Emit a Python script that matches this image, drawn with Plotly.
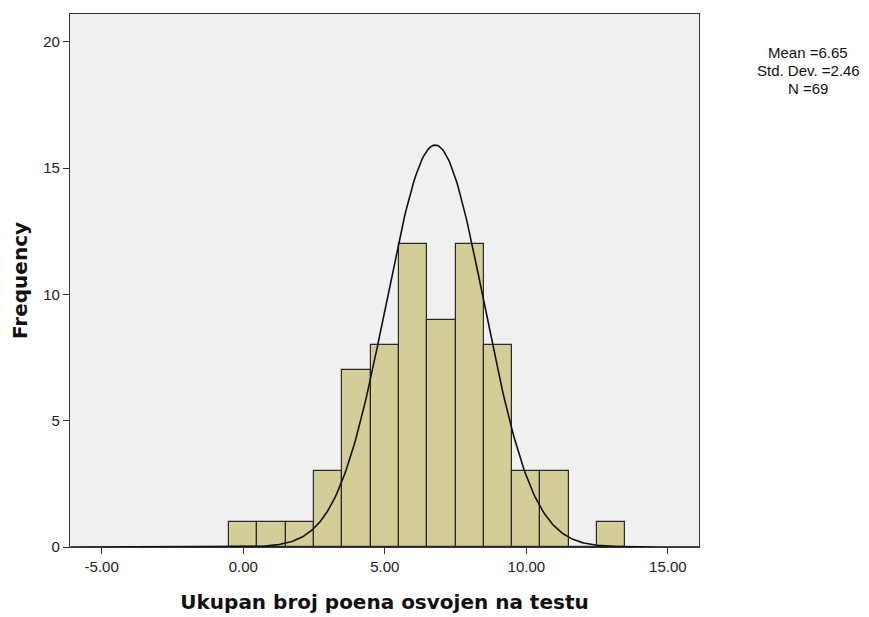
import numpy as np
import plotly.graph_objects as go

# histogram bins (centres) and counts
bin_centers = [0, 1, 2, 3, 4, 5, 6, 7, 8, 9, 10, 11, 12, 13]
counts = [1, 1, 1, 3, 7, 8, 12, 9, 12, 8, 3, 3, 0, 1]

# normal curve as drawn on the chart
curve_mean = 6.78
curve_sd = 1.73
n_total = 69
bin_width = 1.0

stats_lines = ["Mean =6.65", "Std. Dev. =2.46", "N =69"]

x_ticks = [-5, 0, 5, 10, 15]
x_ticklabels = ["-5.00", "0.00", "5.00", "10.00", "15.00"]
y_ticks = [0, 5, 10, 15, 20]

title_font = dict(family="DejaVu Sans", size=20, color="#111111", weight="bold")
tick_font = dict(family="Liberation Sans, Arial", size=15, color="#222222")

fig = go.Figure()

fig.add_trace(go.Bar(
    x=bin_centers, y=counts, width=bin_width,
    marker=dict(color="#D3CE97", line=dict(color="#2a2a2a", width=1.2)),
    showlegend=False, hoverinfo="x+y",
))

xs = np.linspace(-6.1, 16.1, 400)
ys = n_total * bin_width / (curve_sd * np.sqrt(2 * np.pi)) * np.exp(-0.5 * ((xs - curve_mean) / curve_sd) ** 2)
fig.add_trace(go.Scatter(
    x=xs, y=ys, mode="lines",
    line=dict(color="#111111", width=1.6),
    showlegend=False, hoverinfo="skip",
))

# stats box, one annotation per line to keep the tight spacing
for i, line in enumerate(stats_lines):
    fig.add_annotation(
        text=line, xref="paper", yref="paper", x=1.174, y=0.927 - i * 0.033,
        xanchor="center", yanchor="middle", showarrow=False,
        font=dict(family="Liberation Sans, Arial", size=15, color="#111111"),
    )

# the page body adds 8px, so margins are shifted to compensate
fig.update_layout(
    width=869, height=617,
    margin=dict(l=62, r=178, t=6, b=78),
    paper_bgcolor="white", plot_bgcolor="#F0F0F0",
    bargap=0,
    font=tick_font,
)

fig.update_xaxes(
    range=[-6.12, 16.1], tickvals=x_ticks, ticktext=x_ticklabels,
    ticks="outside", ticklen=6, tickcolor="#333333", tickfont=tick_font,
    showgrid=False, zeroline=False,
    showline=True, linecolor="#333333", linewidth=1.2, mirror=True,
    title=dict(text="Ukupan broj poena osvojen na testu", standoff=20, font=title_font),
)
fig.update_yaxes(
    range=[0, 21.1], tickvals=y_ticks,
    ticks="outside", ticklen=6, tickcolor="#333333", tickfont=tick_font,
    showgrid=False, zeroline=False,
    showline=True, linecolor="#333333", linewidth=1.2, mirror=True,
    title=dict(text="Frequency", standoff=12, font=title_font),
)

fig.write_html("out.html")
